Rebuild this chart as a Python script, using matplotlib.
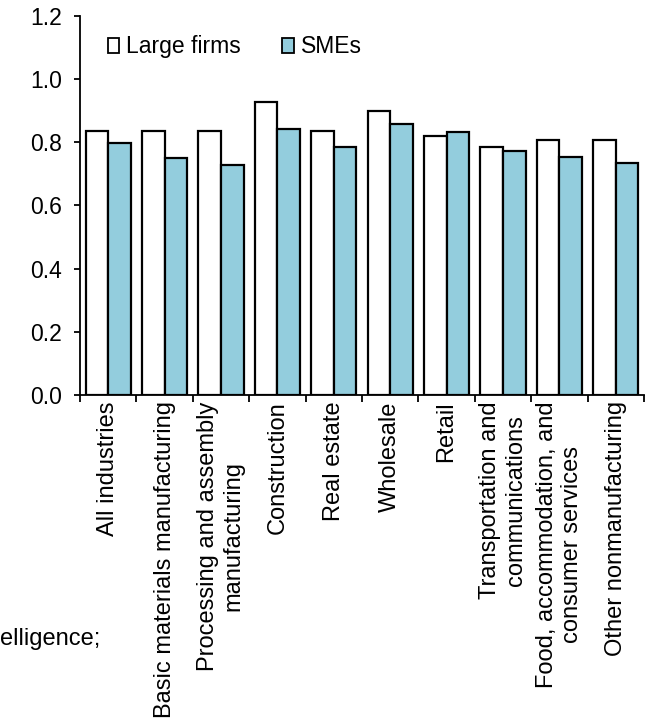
import matplotlib
matplotlib.use("Agg")
import matplotlib.pyplot as plt
import numpy as np

plt.rcParams['font.family'] = ['Liberation Sans', 'DejaVu Sans']

categories = [
    "All industries",
    "Basic materials manufacturing",
    "Processing and assembly\nmanufacturing",
    "Construction",
    "Real estate",
    "Wholesale",
    "Retail",
    "Transportation and\ncommunications",
    "Food, accommodation, and\nconsumer services",
    "Other nonmanufacturing",
]
large_firms = [0.835, 0.835, 0.835, 0.927, 0.835, 0.899, 0.821, 0.785, 0.807, 0.807]
smes = [0.798, 0.749, 0.729, 0.842, 0.786, 0.857, 0.833, 0.772, 0.754, 0.733]
series_names = ["Large firms", "SMEs"]
yticks = [0.0, 0.2, 0.4, 0.6, 0.8, 1.0, 1.2]

fig = plt.figure(figsize=(6.51, 7.28), dpi=100)
ax = fig.add_axes([80/651, 1-395/728, (644-80)/651, (395-16)/728])

x = np.arange(len(categories))
w = 0.4
ax.bar(x - w/2, large_firms, width=w, color="white", edgecolor="black", linewidth=1.6,
       label=series_names[0], zorder=3)
ax.bar(x + w/2, smes, width=w, color="#93CDDD", edgecolor="black", linewidth=1.6,
       label=series_names[1], zorder=3)

ax.set_xlim(-0.5, len(categories) - 0.5)
ax.set_ylim(0, 1.2)
ax.set_yticks(yticks)
ax.set_yticklabels([f"{v:.1f}" for v in yticks], fontsize=16.5)

ax.set_xticks(np.arange(len(categories) + 1) - 0.5)
ax.set_xticklabels([])
ax.set_xticks(x, minor=True)
ax.set_xticklabels(categories, minor=True, rotation=90, fontsize=17,
                   multialignment='center')
ax.tick_params(axis='x', which='minor', length=0, pad=4.5)
ax.tick_params(axis='x', which='major', direction='out', length=5, width=1.3)
ax.tick_params(axis='y', direction='out', length=4.5, width=1.3, pad=8.5)

for s in ['top', 'right']:
    ax.spines[s].set_visible(False)
for s in ['left', 'bottom']:
    ax.spines[s].set_linewidth(1.3)

leg = ax.legend(loc='upper left', bbox_to_anchor=(0.025, 0.985), ncol=2, frameon=False,
                fontsize=16.5, handlelength=0.5, handleheight=0.65, handletextpad=0.3,
                columnspacing=1.8, borderaxespad=0.2)
for h in leg.legend_handles:
    h.set_linewidth(1.3)

fig.text(0.0, 1-645/728, "elligence;", fontsize=17, ha='left', va='baseline')

fig.savefig("out.png", dpi=100)
